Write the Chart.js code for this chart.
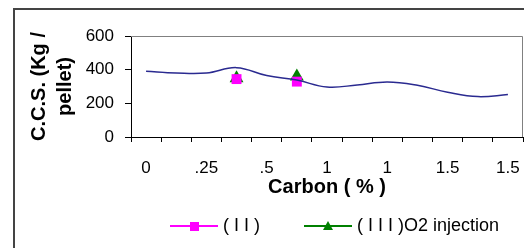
<!DOCTYPE html>
<html lang="en">
<head>
  <meta charset="UTF-8" />
  <title>C.C.S. vs Carbon</title>
  <script src="https://cdn.jsdelivr.net/npm/chart.js"></script>
  <style>
    html, body { margin: 0; padding: 0; background: #fff; }
  </style>
</head>
<body>
  <canvas id="ccsChart" width="524" height="248"></canvas>

  <script>
    // values
    const carbonLabels = ['0', '', '.25', '', '.5', '', '1', '', '1', '', '1.5', '', '1.5'];
    const ccsBase  = [390, 380, 380, 412, 365, 338, 297, 309, 327, 307, 266, 240, 252];
    const ccsII    = [null, null, null, 344, null, 329, null, null, null, null, null, null, null];
    const ccsIIIO2 = [null, null, null, 349, null, 359, null, null, null, null, null, null, null];
    const yMin = 0, yMax = 600, yStep = 200;

    Chart.defaults.font.family = "'Liberation Sans', Arial, sans-serif";
    Chart.defaults.color = '#000';

    // line+marker pictures for the legend (blank part on the left keeps items apart)
    function legendIcon(color, shape) {
      const c = document.createElement('canvas');
      c.width = 94; c.height = 14;
      const g = c.getContext('2d');
      g.strokeStyle = color; g.fillStyle = color; g.lineWidth = 2;
      g.beginPath(); g.moveTo(46, 7); g.lineTo(94, 7); g.stroke();
      g.beginPath();
      if (shape === 'rect') {
        g.rect(66, 3, 9, 9);
      } else {
        g.moveTo(70, 2); g.lineTo(75, 11); g.lineTo(65, 11); g.closePath();
      }
      g.fill();
      return c;
    }
    const icons = [null, legendIcon('#ff00ff', 'rect'), legendIcon('#008000', 'triangle')];

    const framePlugin = {
      id: 'frame',
      afterLayout(chart) {
        // excel put the legend right of centre
        chart.legend.left += 42;
        chart.legend.right += 42;
      },
      beforeDraw(chart) {
        const ctx = chart.ctx;
        ctx.save();
        ctx.fillStyle = '#fff';
        ctx.fillRect(0, 0, chart.width, chart.height);
        ctx.strokeStyle = '#444';
        ctx.lineWidth = 2;
        ctx.beginPath();
        ctx.moveTo(14, chart.height);
        ctx.lineTo(14, 9);
        ctx.lineTo(chart.width, 9);
        ctx.stroke();
        ctx.restore();
      },
      beforeDatasetsDraw(chart) {
        const a = chart.chartArea, ctx = chart.ctx;
        ctx.save();
        ctx.strokeStyle = '#808080';
        ctx.lineWidth = 1;
        ctx.beginPath();
        ctx.moveTo(a.left, a.top + 0.5);
        ctx.lineTo(a.right - 0.5, a.top + 0.5);
        ctx.lineTo(a.right - 0.5, a.bottom);
        ctx.stroke();
        ctx.restore();
      }
    };

    new Chart(document.getElementById('ccsChart'), {
      type: 'line',
      data: {
        labels: carbonLabels,
        datasets: [
          { label: '( I )', data: ccsBase, borderColor: '#2a2a90', borderWidth: 1.5, tension: 0.4, pointRadius: 0 },
          { label: '( I I )', data: ccsII, borderColor: '#ff00ff', backgroundColor: '#ff00ff', pointStyle: 'rect', pointRadius: 7, pointBorderWidth: 0 },
          { label: '( I I I )O2 injection', data: ccsIIIO2, borderColor: '#008000', backgroundColor: '#008000', pointStyle: 'triangle', pointRadius: 8, pointBorderWidth: 0 }
        ]
      },
      options: {
        responsive: false,
        animation: false,
        layout: { autoPadding: false, padding: { left: 20, right: 1, top: 36, bottom: 3 } },
        plugins: {
          tooltip: { enabled: false },
          legend: {
            position: 'bottom',
            labels: {
              font: { size: 18 },
              usePointStyle: true,
              pointStyleWidth: 86,
              padding: 2,
              filter: item => item.datasetIndex !== 0,
              generateLabels(chart) {
                const items = Chart.defaults.plugins.legend.labels.generateLabels(chart);
                items.forEach(it => { it.pointStyle = icons[it.datasetIndex]; });
                return items;
              }
            }
          }
        },
        scales: {
          x: {
            offset: true,
            grid: { offset: true, drawOnChartArea: false, color: '#000', tickLength: 5 },
            border: { color: '#000', width: 1 },
            ticks: { autoSkip: false, maxRotation: 0, padding: 2, font: { size: 17, lineHeight: '48px' } },
            title: { display: true, text: 'Carbon ( % )', font: { size: 20, weight: 'bold' }, padding: { top: 0, bottom: 15.5 } },
            afterFit(scale) {
              scale.height = 78;
              scale.paddingLeft = 0;
              scale.paddingRight = 0;
            }
          },
          y: {
            min: yMin, max: yMax,
            grid: { drawOnChartArea: false, color: '#000', tickLength: 6 },
            border: { color: '#000', width: 1 },
            ticks: { stepSize: yStep, padding: 11, font: { size: 17 } },
            title: {
              display: true,
              text: ['C.C.S. (Kg /', 'pellet)'],
              font: { size: 20, weight: 'bold', lineHeight: 1.3 },
              padding: { top: 6, bottom: 0 }
            },
            afterFit(scale) { scale.width = 111; }
          }
        }
      },
      plugins: [framePlugin]
    });
  </script>
</body>
</html>
